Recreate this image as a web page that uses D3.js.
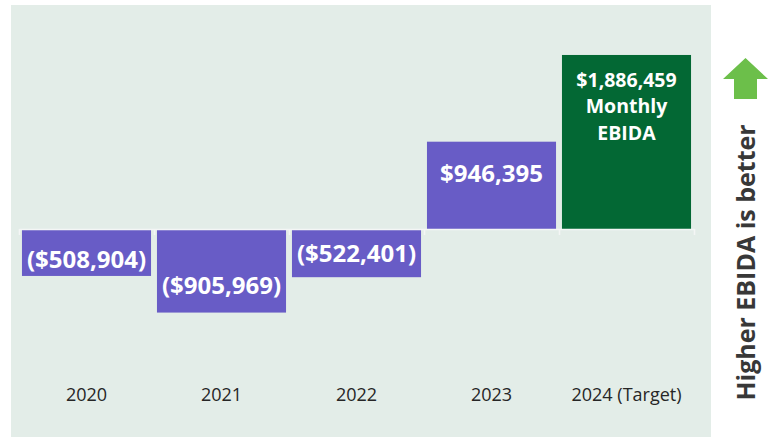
<!DOCTYPE html>
<html>
<head>
<meta charset="utf-8">
<script src="https://cdn.jsdelivr.net/npm/d3@7"></script>
<style>
  html, body { margin: 0; padding: 0; background: #ffffff; }
  svg { display: block; }
</style>
</head>
<body>
<svg id="chart" width="773" height="438"></svg>
<script>
// ---- data ----
const categories = ["2020", "2021", "2022", "2023", "2024 (Target)"];
const values = [-508904, -905969, -522401, 946395, 1886459];
const valueLabels = ["($508,904)", "($905,969)", "($522,401)", "$946,395", "$1,886,459"];
const targetExtraLines = ["Monthly", "EBIDA"];
const sideLabel = "Higher EBIDA is better";

// ---- drawing ----
const svg = d3.select("#chart");
const purple = "#685cc6";
const darkGreen = "#036834";
const panelColor = "#e3ede8";

svg.append("rect").attr("x", 11).attr("y", 5).attr("width", 700).attr("height", 432)
  .attr("fill", panelColor);

const x = d3.scaleBand().domain(categories).range([19, 694])
  .paddingInner(0.044).paddingOuter(0.022);
const y = d3.scaleLinear().domain([-2000000, 2000000]).range([413.5, 44.5]);

const g = svg.append("g");
g.selectAll("rect.bar").data(values).enter().append("rect")
  .attr("class", "bar")
  .attr("x", (d, i) => x(categories[i]))
  .attr("width", x.bandwidth())
  .attr("y", d => Math.min(y(d), y(0)))
  .attr("height", d => Math.abs(y(d) - y(0)))
  .attr("fill", (d, i) => i === values.length - 1 ? darkGreen : purple);

// zero line with boundary ticks
const bScale = d3.scaleLinear().domain([0, categories.length]).range([19, 694]);
const zeroAxis = d3.axisBottom(bScale).tickValues(d3.range(categories.length + 1))
  .tickSize(6).tickSizeOuter(0).tickFormat("");
const za = svg.append("g").attr("transform", `translate(0,${y(0)})`).call(zeroAxis);
za.select(".domain").attr("stroke", "#f4f6f5").attr("stroke-width", 1.6);
za.selectAll(".tick line").attr("stroke", "#f4f6f5").attr("stroke-width", 1.6);

// value labels (vertical placement as fraction of bar length from the zero line)
const labelFrac = [0.65, 0.67, 0.5, 0.64];
g.selectAll("text.val").data(values.slice(0, 4)).enter().append("text")
  .attr("class", "val")
  .attr("x", (d, i) => x(categories[i]) + x.bandwidth() / 2)
  .attr("y", (d, i) => y(0) + (y(d) - y(0)) * labelFrac[i])
  .attr("dy", "0.36em")
  .attr("text-anchor", "middle")
  .attr("fill", "#ffffff")
  .attr("font-family", "'Open Sans', sans-serif")
  .attr("font-weight", 700)
  .attr("font-size", 24)
  .text((d, i) => valueLabels[i]);

const lastI = values.length - 1;
const tLines = [valueLabels[lastI]].concat(targetExtraLines);
const tx = x(categories[lastI]) + x.bandwidth() / 2;
g.selectAll("text.tgt").data(tLines).enter().append("text")
  .attr("class", "tgt")
  .attr("x", tx)
  .attr("y", (d, i) => y(values[lastI]) + 25 + i * 26.5)
  .attr("dy", "0.36em")
  .attr("text-anchor", "middle")
  .attr("fill", "#ffffff")
  .attr("font-family", "'Open Sans', sans-serif")
  .attr("font-weight", 700)
  .attr("font-size", 19.5)
  .text(d => d);

// category labels
const catAxis = d3.axisBottom(x).tickSize(0).tickPadding(0);
const ca = svg.append("g").attr("transform", "translate(0,388)").call(catAxis);
ca.select(".domain").remove();
ca.selectAll(".tick text")
  .attr("font-family", "'Open Sans', sans-serif")
  .attr("font-size", 18)
  .attr("fill", "#262626");

// side arrow
const arrow = d3.path();
arrow.moveTo(745.5, 58);
arrow.lineTo(768, 79);
arrow.lineTo(757, 79);
arrow.lineTo(757, 99);
arrow.lineTo(734, 99);
arrow.lineTo(734, 79);
arrow.lineTo(723, 79);
arrow.closePath();
svg.append("path").attr("d", arrow.toString()).attr("fill", "#6cbf4a");

svg.append("text")
  .attr("transform", "translate(755,262.5) rotate(-90)")
  .attr("text-anchor", "middle")
  .attr("fill", "#383838")
  .attr("font-family", "'Open Sans', sans-serif")
  .attr("font-weight", 700)
  .attr("font-size", 25)
  .text(sideLabel);
</script>
</body>
</html>
